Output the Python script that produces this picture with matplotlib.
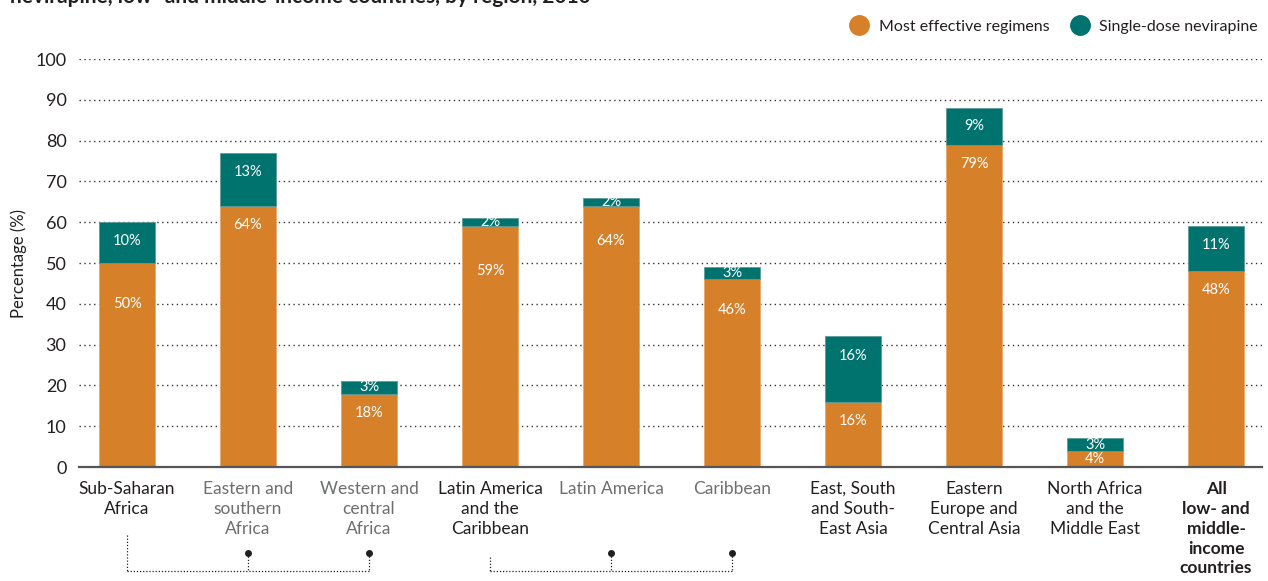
import matplotlib.pyplot as plt
from matplotlib.lines import Line2D

plt.rcParams['font.family'] = ['Lato', 'DejaVu Sans']

regions = [
    'Sub-Saharan\nAfrica',
    'Eastern and\nsouthern\nAfrica',
    'Western and\ncentral\nAfrica',
    'Latin America\nand the\nCaribbean',
    'Latin America',
    'Caribbean',
    'East, South\nand South-\nEast Asia',
    'Eastern\nEurope and\nCentral Asia',
    'North Africa\nand the\nMiddle East',
    'All\nlow- and\nmiddle-\nincome\ncountries',
]
effective = [50, 64, 18, 59, 64, 46, 16, 79, 4, 48]
nevirapine = [10, 13, 3, 2, 2, 3, 16, 9, 3, 11]

# sub-regions are printed in grey, the aggregate in bold
sub_regions = [1, 2, 4, 5]
total_idx = 9

# manual nudges for a few inner labels (in percentage points below the top)
orange_drop = {0: 10, 3: 11, 4: 8.6, 5: 7.6}

ORANGE = '#D7802A'
TEAL = '#00736F'
DARK = '#231F20'
GREY = '#6D6E70'

fig = plt.figure(figsize=(12.68, 5.81), dpi=100)
ax = fig.add_axes([0.0623, 0.1962, 0.9330, 0.7022])

x = list(range(len(regions)))
w = 0.463
ax.bar(x, effective, width=w, color=ORANGE, edgecolor='#E9A86A', linewidth=0.6, zorder=3)
ax.bar(x, nevirapine, width=w, bottom=effective, color=TEAL, edgecolor='#5E9C99', linewidth=0.6, zorder=3)

for i in x:
    e, n = effective[i], nevirapine[i]
    ye = max(e / 2, e - orange_drop.get(i, 4.7))
    ax.text(i, ye, f'{e}%', color='white', ha='center', va='center', fontsize=10.5, zorder=4)
    yn = max(e + n / 2, e + n - 4.7)
    ax.text(i, yn, f'{n}%', color='white', ha='center', va='center', fontsize=10.5, zorder=4)

ax.set_xlim(-0.397, 9.38)
ax.set_ylim(0, 100)
ax.set_yticks(range(0, 101, 10))
ax.yaxis.grid(True, linestyle=(0, (1, 2.5)), color='#333333', linewidth=1.0, zorder=0)
ax.set_axisbelow(True)
for s in ['top', 'right', 'left']:
    ax.spines[s].set_visible(False)
ax.spines['bottom'].set_color('#555555')
ax.spines['bottom'].set_linewidth(1.6)
ax.spines['bottom'].set_zorder(5)
ax.tick_params(axis='y', length=0, pad=9, labelsize=13, labelcolor=DARK)
ax.tick_params(axis='x', length=0, pad=10)
ax.set_ylabel('Percentage (%)', fontsize=12, color=DARK, labelpad=6)

ax.set_xticks(x)
ax.set_xticklabels(regions, fontsize=12.5, linespacing=1.3, va='top')
for i, lab in enumerate(ax.get_xticklabels()):
    lab.set_color(GREY if i in sub_regions else DARK)
    if i == total_idx:
        lab.set_fontweight('bold')

# dotted brackets tying sub-regions to their parent region
tr = ax.get_xaxis_transform()
dot = dict(color=DARK, linestyle=(0, (1, 1.5)), linewidth=0.9, clip_on=False)
for parent, start in [(0, -0.167), (3, -0.22)]:
    kids = [parent + 1, parent + 2]
    ax.plot([parent, parent], [start, -0.255], transform=tr, **dot)
    ax.plot([parent, kids[-1]], [-0.255, -0.255], transform=tr, **dot)
    for k in kids:
        ax.plot([k, k], [-0.211, -0.255], transform=tr, **dot)
        ax.plot([k], [-0.211], transform=tr, marker='o', markersize=4,
                color=DARK, clip_on=False)

handles = [
    Line2D([], [], marker='o', linestyle='none', markersize=14, color=ORANGE),
    Line2D([], [], marker='o', linestyle='none', markersize=14, color=TEAL),
]
fig.legend(handles, ['Most effective regimens', 'Single-dose nevirapine'],
           loc='center right', bbox_to_anchor=(1.003, 1 - 27 / 581), ncol=2,
           frameon=False, fontsize=11.5, handletextpad=0.2, columnspacing=0.9,
           labelcolor=DARK)

fig.text(10 / 1268, 1 - 3 / 581, 'nevirapine, low- and middle-income countries, by region, 2010',
         fontsize=15, fontweight='bold', color=DARK, ha='left', va='baseline')

fig.savefig('out.png', dpi=100)
